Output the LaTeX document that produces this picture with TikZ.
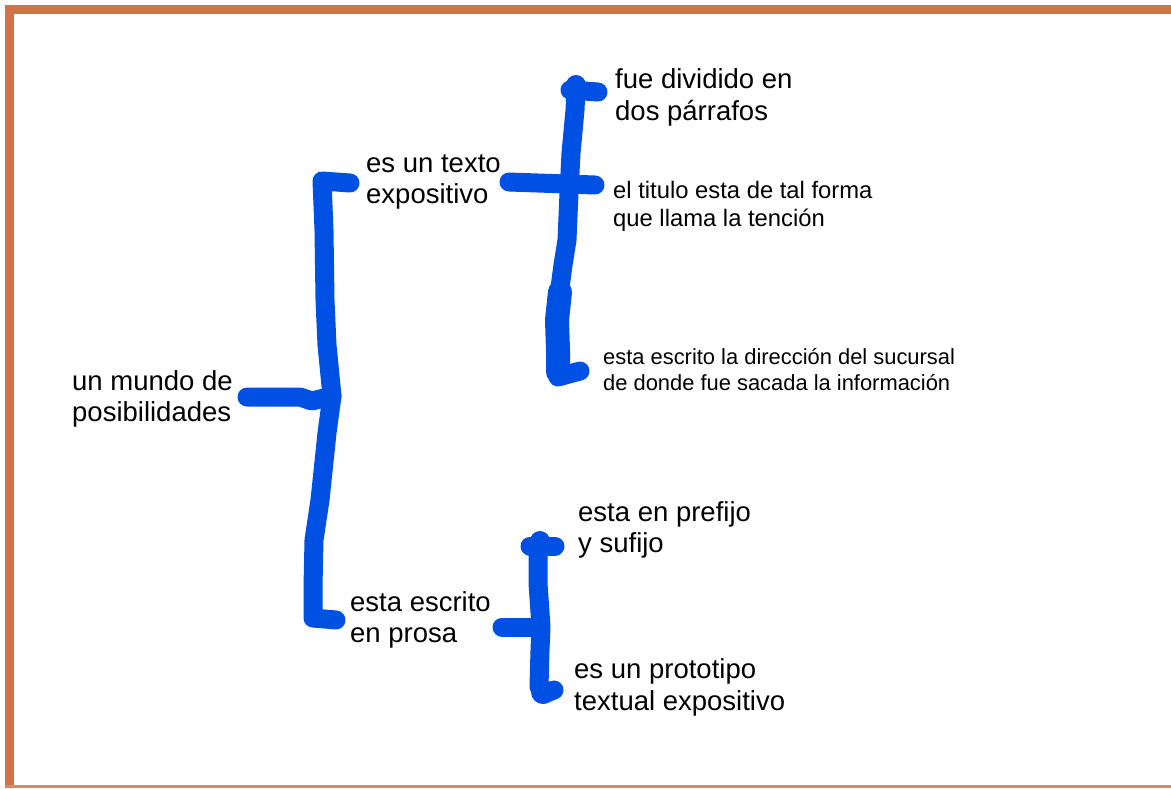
\documentclass[tikz,border=0pt]{standalone}
\usepackage{fontspec}
\setmainfont{Liberation Sans}
\definecolor{penblue}{RGB}{0,80,228}
\definecolor{framec}{RGB}{210,114,74}
\begin{document}
\begin{tikzpicture}[x=1pt,y=-1pt,
  pen/.style={draw=penblue,line width=19pt,line cap=round,line join=round},
  blob/.style={fill=penblue},
  big/.style={font=\fontsize{27.5}{31.5}\selectfont,align=left,inner sep=0pt,anchor=west},
  mid/.style={font=\fontsize{23.8}{28}\selectfont,align=left,inner sep=0pt,anchor=west},
  sml/.style={font=\fontsize{21.9}{26}\selectfont,align=left,inner sep=0pt,anchor=west}]
\useasboundingbox (0,0) rectangle (1171,788);
\fill[white] (0,0) rectangle (1171,788);
% frame
\fill[framec] (5,5) rectangle (1171,14);
\fill[framec] (5,5) rectangle (14,786);
\fill[framec!85] (5,785) rectangle (1171,788);
% texts
\node[big] (mundo) at (72,399) {un mundo de\\posibilidades};
\node[big] (texto) at (366,182) {es un texto\\expositivo};
\node[big] (fue) at (615,97.5) {fue dividido en\\dos párrafos};
\node[mid] (titulo) at (613,206) {el titulo esta de tal forma\\que llama la tención};
\node[sml] (dir) at (603,370) {esta escrito la dirección del sucursal\\de donde fue sacada la información};
\node[big] (prosa) at (350,620) {esta escrito\\en prosa};
\node[big] (prefijo) at (578,530) {esta en prefijo\\y sufijo};
\node[big] (proto) at (574,687.5) {es un prototipo\\textual expositivo};
% junction coordinates
\coordinate (j1) at (332,396);
\coordinate (a1top) at (350,183);
\coordinate (a1bot) at (336,620);
\coordinate (m0) at (247,397);
\coordinate (b0) at (509,182);
\coordinate (b1) at (595,185);
\coordinate (btop) at (598,92);
\coordinate (bbot) at (580,371);
\coordinate (c0) at (502,627);
\coordinate (c1) at (540,627);
\coordinate (ctop) at (555,546);
\coordinate (cbot) at (554,690);
% main bracket
\draw[pen] (a1top) -- (322,181) -- (324,230) -- (325,300) -- (327,345) -- (j1) -- (327,433) -- (320,500) -- (314,540) -- (313,587) -- (313,618) -- (a1bot);
\draw[pen] (m0) -- (300,397) -- (312,401) -- (j1);
% upper bracket
\fill[blob] (576,85) circle (10);
\draw[pen] (btop) -- (570,90);
\draw[pen] (576,88) -- (575,110) -- (571,153) -- (569,193) -- (567,240) -- (563,265) -- (559,295) -- (558,353) -- (558,377) -- (bbot);
\draw[penblue,line width=24pt,line cap=round,line join=round] (560,292) -- (557,320) -- (558,350) -- (558,372);
\draw[pen] (b0) -- (b1);
% lower bracket
\fill[blob] (540,541) circle (10);
\draw[pen] (ctop) -- (530,546);
\draw[pen] (538,545) -- (538,583) -- (541,627) -- (540,650) -- (539,687) -- (544,694) -- (cbot);
\fill[blob] (543,692) circle (12);
\draw[pen] (c0) -- (c1);
\end{tikzpicture}
\end{document}
